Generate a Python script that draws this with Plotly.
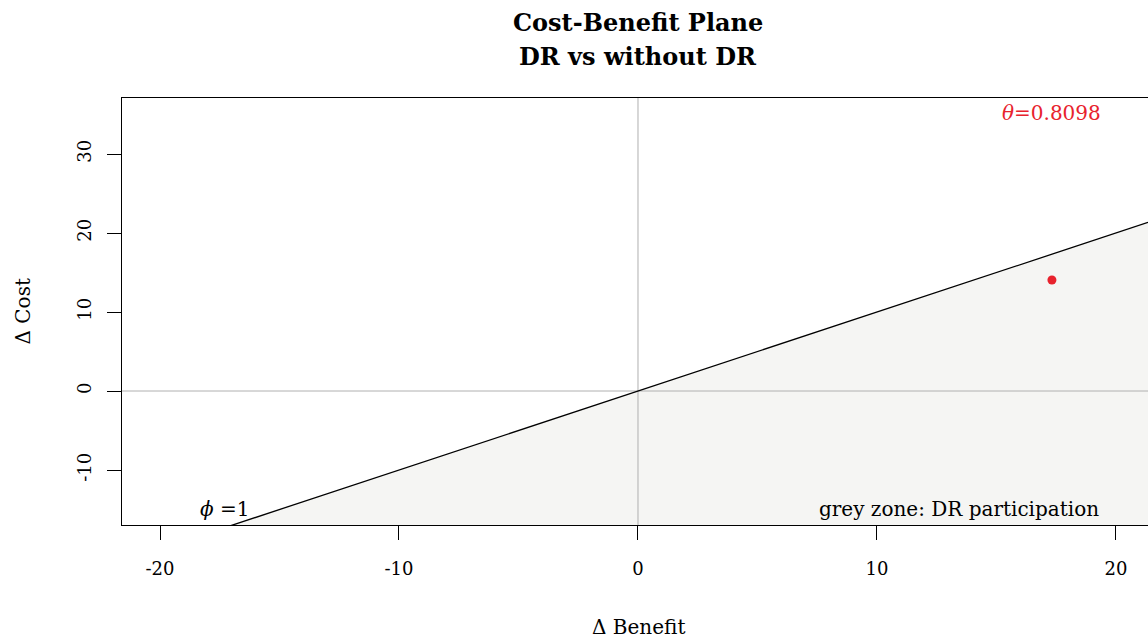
import plotly.graph_objects as go

# Data
benefit = [17.32]
cost = [14.05]
theta_label = "θ=0.8098"
phi = 1.0
x_ticks = [-20, -10, 0, 10, 20]
y_ticks = [-10, 0, 10, 20, 30]
x_range = [-21.59, 21.34]
y_range = [-16.96, 37.09]

FONT = "DejaVu Serif"
RED = "#e8222d"

fig = go.Figure()

# grey zone (below the line cost = phi * benefit)
x0, x1 = x_range
y0 = y_range[0]
xs = [y0 / phi, x1, x1, y0 / phi]
ys = [y0, phi * x1, y0, y0]
fig.add_trace(go.Scatter(x=xs, y=ys, mode="lines", fill="toself",
                         fillcolor="#f5f5f3", line=dict(width=0),
                         hoverinfo="skip", showlegend=False))
# zero reference lines
fig.add_trace(go.Scatter(x=[0, 0], y=y_range, mode="lines",
                         line=dict(color="#b0b0b0", width=1), showlegend=False))
fig.add_trace(go.Scatter(x=list(x_range), y=[0, 0], mode="lines",
                         line=dict(color="#b0b0b0", width=1), showlegend=False))
# phi line
fig.add_trace(go.Scatter(x=[x0, x1], y=[phi * x0, phi * x1], mode="lines",
                         line=dict(color="black", width=1.3), showlegend=False))
# point
fig.add_trace(go.Scatter(x=benefit, y=cost, mode="markers",
                         marker=dict(color=RED, size=9), showlegend=False))

fig.add_annotation(x=benefit[0], y=35.2, text="<i>θ</i>=0.8098", showarrow=False,
                   font=dict(family=FONT, size=20, color=RED), xanchor="center",
                   yanchor="middle")
fig.add_annotation(x=19.37, y=-14.9, text="grey zone: DR participation", showarrow=False,
                   font=dict(family=FONT, size=20, color="black"), xanchor="right",
                   yanchor="middle")
fig.add_annotation(x=-17.3, y=-14.9, text="<i>ϕ</i> =1", showarrow=False,
                   font=dict(family=FONT, size=20, color="black"), xanchor="center",
                   yanchor="middle")

xs_shift = 638 - (122 + 1148) / 2
# titles
fig.add_annotation(xref="paper", yref="paper", x=0.5, y=1, yshift=76,
                   xshift=xs_shift, xanchor="center", yanchor="middle",
                   text="<b>Cost-Benefit Plane</b>", showarrow=False,
                   font=dict(family=FONT, size=24, color="black"))
fig.add_annotation(xref="paper", yref="paper", x=0.5, y=1, yshift=42,
                   xshift=xs_shift, xanchor="center", yanchor="middle",
                   text="<b>DR vs without DR</b>", showarrow=False,
                   font=dict(family=FONT, size=24, color="black"))
fig.add_annotation(xref="paper", yref="paper", x=0.5, y=0, yshift=-102,
                   xshift=xs_shift, xanchor="center", yanchor="middle",
                   text="Δ Benefit", showarrow=False,
                   font=dict(family=FONT, size=20, color="black"))
fig.add_annotation(xref="paper", yref="paper", x=0, y=0.5, xshift=-100,
                   xanchor="center", yanchor="middle",
                   text="Δ Cost", showarrow=False, textangle=-90,
                   font=dict(family=FONT, size=20, color="black"))

fig.update_xaxes(range=x_range, tickvals=x_ticks, ticktext=[str(v) for v in x_ticks],
                 showgrid=False, zeroline=False, showline=True, mirror=True,
                 linecolor="black", linewidth=1, ticks="outside", ticklen=14,
                 tickcolor="black", ticklabelstandoff=13,
                 tickfont=dict(family=FONT, size=18, color="black"))
fig.update_yaxes(range=y_range, tickvals=y_ticks, ticktext=[str(v) for v in y_ticks],
                 showgrid=False, zeroline=False, showline=True, mirror=False,
                 linecolor="black", linewidth=1, ticks="outside", ticklen=14,
                 tickcolor="black", tickangle=-90, ticklabelstandoff=9,
                 tickfont=dict(family=FONT, size=18, color="black"))

fig.update_layout(width=1148, height=639, margin=dict(l=122, r=0, t=98, b=114),
                  plot_bgcolor="white", paper_bgcolor="white", showlegend=False)

fig.write_html("out.html", config={"displayModeBar": False},
               post_script="document.body.style.margin='0';")
